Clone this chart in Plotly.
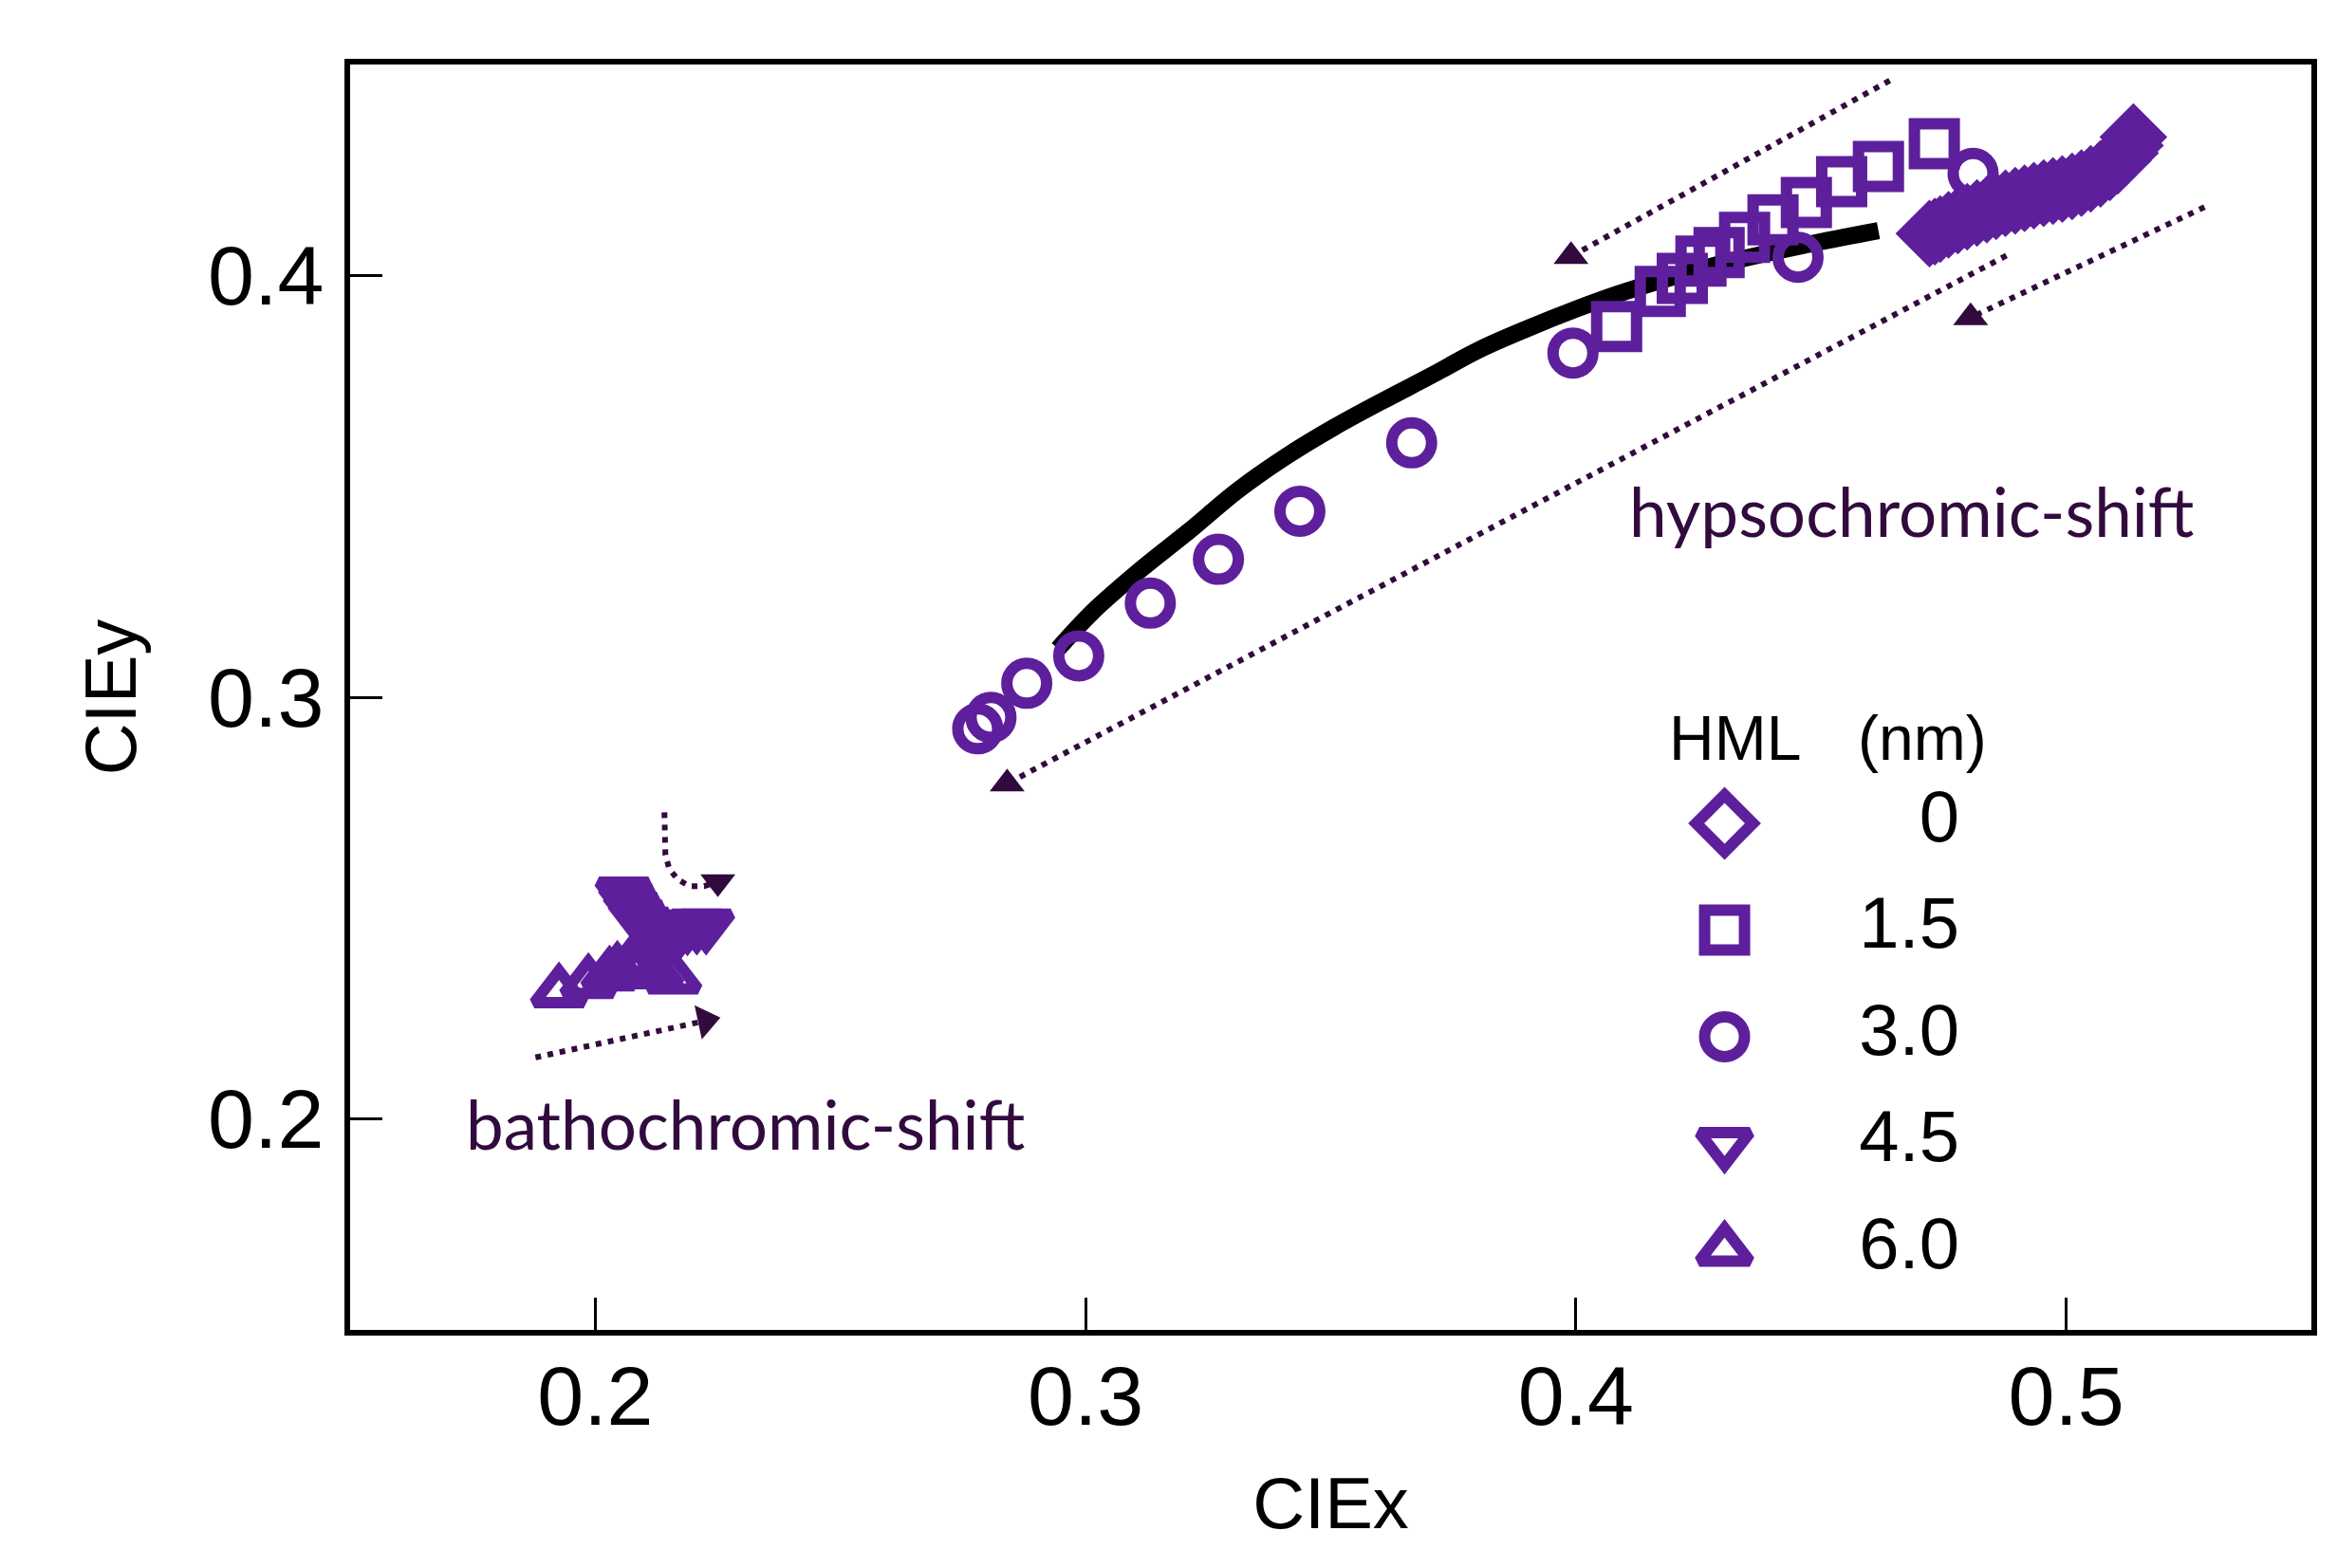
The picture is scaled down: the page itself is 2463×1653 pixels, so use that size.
import plotly.graph_objects as go

PURPLE = "#5e1f9c"
DARK = "#320b3e"
FONT = "Liberation Sans, Arial, sans-serif"

# legend entries (HML thickness, nm)
hml_labels = ["0", "1.5", "3.0", "4.5", "6.0"]
hml_symbols = ["diamond-open", "square-open", "circle-open",
               "triangle-down-open", "triangle-up-open"]

# HML = 0 nm
x_0 = [0.4721, 0.4732, 0.4743, 0.4760, 0.4779, 0.4798, 0.4818, 0.4838, 0.4857,
       0.4876, 0.4896, 0.4915, 0.4934, 0.4954, 0.4973, 0.4992, 0.5012, 0.5031,
       0.5050, 0.5070, 0.5089, 0.5105, 0.5120, 0.5130, 0.5137]
y_0 = [0.4099, 0.4104, 0.4110, 0.4120, 0.4130, 0.4139, 0.4148, 0.4156, 0.4164,
       0.4171, 0.4177, 0.4183, 0.4189, 0.4195, 0.4200, 0.4205, 0.4211, 0.4219,
       0.4229, 0.4241, 0.4256, 0.4272, 0.4290, 0.4308, 0.4328]

# HML = 1.5 nm
x_15 = [0.4083, 0.4172, 0.4217, 0.4255, 0.4292, 0.4344, 0.4402, 0.4470, 0.4542,
        0.4617, 0.4731]
y_15 = [0.3879, 0.3962, 0.3993, 0.4034, 0.4054, 0.4090, 0.4132, 0.4173, 0.4222,
        0.4258, 0.4312]

# HML = 3.0 nm
x_30 = [0.2780, 0.2807, 0.2880, 0.2986, 0.3132, 0.3271, 0.3437, 0.3665, 0.3994,
        0.4453, 0.4810]
y_30 = [0.2925, 0.2952, 0.3033, 0.3098, 0.3223, 0.3327, 0.3441, 0.3603, 0.3816,
        0.4043, 0.4242]

# HML = 4.5 nm
x_45 = [0.2058, 0.2065, 0.2075, 0.2085, 0.2098, 0.2110, 0.2122, 0.2140, 0.2159,
        0.2175, 0.2188, 0.2207, 0.2226]
y_45 = [0.2536, 0.2520, 0.2500, 0.2482, 0.2465, 0.2455, 0.2449, 0.2447, 0.2447,
        0.2452, 0.2458, 0.2460, 0.2460]

# HML = 6.0 nm
x_60 = [0.1926, 0.1986, 0.2029, 0.2045, 0.2070, 0.2095, 0.2122, 0.2159]
y_60 = [0.2301, 0.2323, 0.2341, 0.2352, 0.2362, 0.2360, 0.2346, 0.2334]

# black reference curve
curve_x = [0.2944, 0.3014, 0.3112, 0.3211, 0.3310, 0.3408, 0.3507, 0.3605, 0.3704,
           0.3803, 0.3901, 0.4000, 0.4099, 0.4271, 0.4468, 0.4617]
curve_y = [0.3115, 0.3202, 0.3302, 0.3394, 0.3490, 0.3570, 0.3640, 0.3702, 0.3762,
           0.3824, 0.3874, 0.3920, 0.3961, 0.4020, 0.4072, 0.4106]

# dotted guide arrows: (x list, y list, head symbol, head angle)
arrows = [
    ([0.4640, 0.3990], [0.4462, 0.4045], "triangle-up", 0),
    ([0.5282, 0.4805], [0.4162, 0.3900], "triangle-up", 0),
    ([0.4878, 0.2840], [0.4047, 0.2795], "triangle-up", 0),
    ([0.1878, 0.2225], [0.2146, 0.2233], "triangle-right", -12),
    ([0.2141, 0.2141, 0.2141, 0.2143, 0.2151, 0.2168, 0.2193, 0.2222, 0.2250],
     [0.2727, 0.2694, 0.2660, 0.2626, 0.2593, 0.2568, 0.2552, 0.2552, 0.2562],
     "triangle-down", 0),
]

fig = go.Figure()

for ax, ay, head, ang in arrows:
    fig.add_trace(go.Scatter(x=ax, y=ay, mode="lines", showlegend=False,
                             line=dict(color=DARK, width=6, dash="6px,7px"),
                             hoverinfo="skip"))
    fig.add_trace(go.Scatter(x=[ax[-1]], y=[ay[-1]], mode="markers", showlegend=False,
                             marker=dict(symbol=head, size=32, color=DARK, angle=ang,
                                         line=dict(width=0)),
                             hoverinfo="skip"))

fig.add_trace(go.Scatter(x=curve_x, y=curve_y, mode="lines", showlegend=False,
                         line=dict(color="black", width=18, shape="spline")))

# marker size per HML entry
hml_sizes = [42, 42, 42, 45, 45]
draw_order = [(x_15, y_15, 1), (x_30, y_30, 2), (x_0, y_0, 0),
              (x_45, y_45, 3), (x_60, y_60, 4)]
for sx, sy, k in draw_order:
    fig.add_trace(go.Scatter(x=sx, y=sy, mode="markers", name=hml_labels[k],
                             showlegend=False,
                             marker=dict(symbol=hml_symbols[k], size=hml_sizes[k],
                                         color=PURPLE, opacity=1,
                                         line=dict(width=12, color=PURPLE))))

# hand-built legend on an overlay axis pair
leg_sizes = [46, 42, 42, 46, 46]
fig.add_trace(go.Scatter(x=[0] * len(hml_labels), y=hml_labels, mode="markers",
                         xaxis="x2", yaxis="y2", showlegend=False, cliponaxis=False,
                         marker=dict(symbol=hml_symbols, size=leg_sizes, color=PURPLE,
                                     opacity=1,
                                     line=dict(width=12, color=PURPLE))))
fig.add_trace(go.Scatter(x=[1] * len(hml_labels), y=hml_labels, mode="text",
                         text=hml_labels, textposition="middle left",
                         xaxis="x2", yaxis="y2", showlegend=False, cliponaxis=False,
                         textfont=dict(family=FONT, size=76, color="black")))

fig.add_annotation(text="HML", x=0.6715, y=0.4678, xref="paper", yref="paper",
                   xanchor="left", yanchor="middle", showarrow=False,
                   font=dict(family=FONT, size=66, color="black"))
fig.add_annotation(text="(nm)", x=0.8355, y=0.4678, xref="paper", yref="paper",
                   xanchor="right", yanchor="middle", showarrow=False,
                   font=dict(family=FONT, size=66, color="black"))

fig.add_annotation(text="hypsochromic-shift", x=0.4684, y=0.3441,
                   xanchor="center", yanchor="middle", showarrow=False,
                   font=dict(family="Lato, sans-serif", size=71, color=DARK))
fig.add_annotation(text="bathochromic-shift", x=0.2306, y=0.1989,
                   xanchor="center", yanchor="middle", showarrow=False,
                   font=dict(family="Lato, sans-serif", size=71, color=DARK))

axis_common = dict(showgrid=False, zeroline=False, showline=True, linecolor="black",
                   linewidth=6, mirror=True, ticks="inside", ticklen=34,
                   tickwidth=3, tickcolor="black",
                   tickfont=dict(family=FONT, size=88, color="black"))

fig.update_layout(
    width=2447, height=1637,
    margin=dict(l=361, r=19, t=60, b=243),
    plot_bgcolor="white", paper_bgcolor="white",
    showlegend=False,
    xaxis=dict(range=[0.15, 0.55], tickvals=[0.2, 0.3, 0.4, 0.5],
               ticktext=["0.2", "0.3", "0.4", "0.5"], ticklabelstandoff=-12,
               title=dict(text="CIEx", standoff=40,
                          font=dict(family=FONT, size=76, color="black")),
               **axis_common),
    yaxis=dict(range=[0.15, 0.45], tickvals=[0.2, 0.3, 0.4],
               ticktext=["0.2", "0.3", "0.4"], ticklabelstandoff=4,
               title=dict(text="CIEy", standoff=52,
                          font=dict(family=FONT, size=76, color="black")),
               **axis_common),
    xaxis2=dict(domain=[0.7008, 0.8205], range=[0, 1], visible=False,
                anchor="y2", fixedrange=True),
    yaxis2=dict(domain=[0.0630, 0.4003], range=[4, 0], type="category",
                visible=False, anchor="x2", fixedrange=True),
)

fig.write_html("out.html")
